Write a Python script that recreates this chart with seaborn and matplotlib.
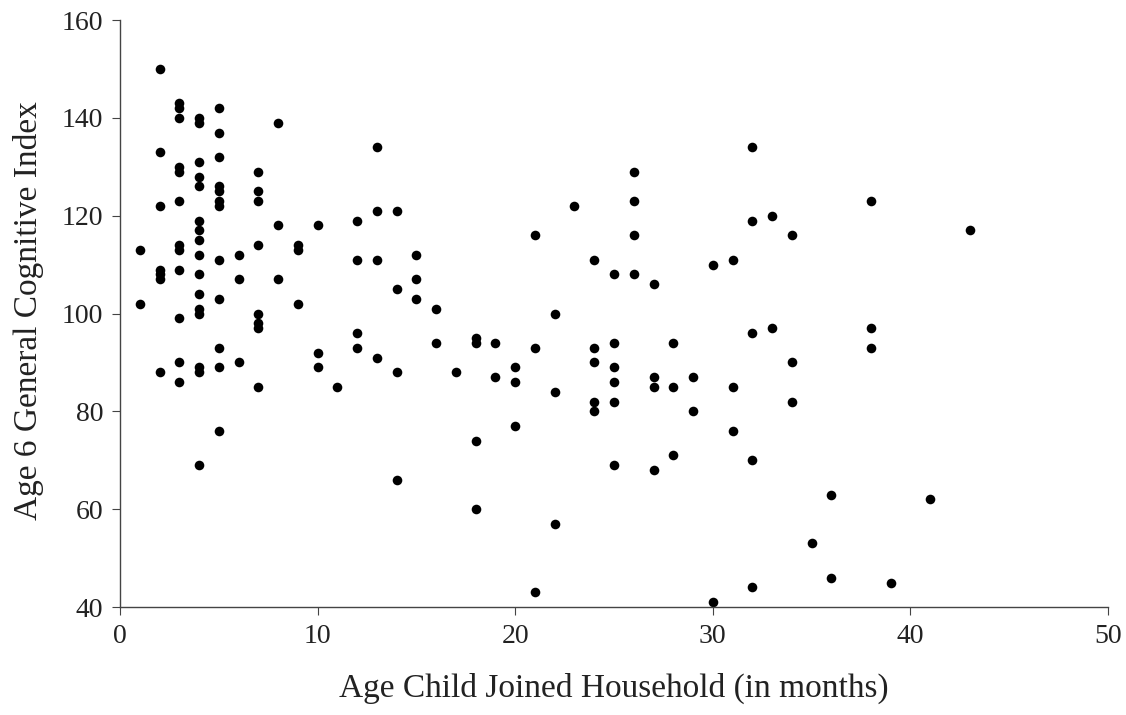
import matplotlib
matplotlib.use('Agg')
import matplotlib.pyplot as plt
import pandas as pd
import seaborn as sns

# age joined household (months) -> list of age 6 GCI scores
ages = [1, 2, 3, 4, 5, 6, 7, 8, 9, 10, 11, 12, 13, 14, 15, 16, 17, 18, 19, 20,
        21, 22, 23, 24, 25, 26, 27, 28, 29, 30, 31, 32, 33, 34, 35, 36, 38, 39, 41, 43]
scores = [
    [113, 102],
    [150, 133, 122, 109, 108, 107, 88],
    [143, 142, 140, 130, 129, 123, 114, 113, 109, 99, 90, 86],
    [140, 139, 131, 128, 126, 119, 117, 115, 112, 108, 104, 101, 100, 89, 88, 69],
    [142, 137, 132, 126, 125, 123, 122, 111, 103, 93, 89, 76],
    [112, 107, 90],
    [129, 125, 123, 114, 100, 98, 97, 85],
    [139, 118, 107],
    [114, 113, 102],
    [118, 92, 89],
    [85],
    [119, 111, 96, 93],
    [134, 121, 111, 91],
    [121, 105, 88, 66],
    [112, 107, 103],
    [101, 94],
    [88],
    [95, 94, 74, 60],
    [94, 87],
    [89, 86, 77],
    [116, 93, 43],
    [100, 84, 57],
    [122],
    [111, 93, 90, 82, 80],
    [108, 94, 89, 86, 82, 69],
    [129, 123, 116, 108],
    [106, 87, 85, 68],
    [94, 85, 71],
    [87, 80],
    [110, 41],
    [111, 85, 76],
    [134, 119, 96, 70, 44],
    [120, 97],
    [116, 90, 82],
    [53],
    [63, 46],
    [123, 97, 93],
    [45],
    [62],
    [117],
]

rows = [(a, s) for a, ss in zip(ages, scores) for s in ss]
df = pd.DataFrame(rows, columns=['age', 'gci'])

sns.set_style('ticks')
plt.rcParams['font.family'] = ['Liberation Serif', 'DejaVu Serif']

fig = plt.figure(figsize=(11.26, 7.15), dpi=100)
ax = fig.add_axes([0.1066, 0.151, 0.8774, 0.821])
sns.scatterplot(data=df, x='age', y='gci', color='black', s=48,
                edgecolor='black', linewidth=0, ax=ax)

ax.set_xlim(0, 50)
ax.set_ylim(40, 160)
ax.set_xticks(range(0, 51, 10))
ax.set_yticks(range(40, 161, 20))
ax.tick_params(labelsize=20, length=6, width=0.8, color='#444444', pad=6,
               labelcolor='#222222')
for side in ['top', 'right']:
    ax.spines[side].set_visible(False)
for side in ['left', 'bottom']:
    ax.spines[side].set_color('#444444')
    ax.spines[side].set_linewidth(1.0)

ax.set_xlabel('Age Child Joined Household (in months)', fontsize=24, color='#222222')
ax.set_ylabel('Age 6 General Cognitive Index', fontsize=24, color='#222222')
ax.xaxis.set_label_coords(0.5, -0.112)
ax.yaxis.set_label_coords(-0.077, 0.505)

fig.savefig('out.png', dpi=100)
